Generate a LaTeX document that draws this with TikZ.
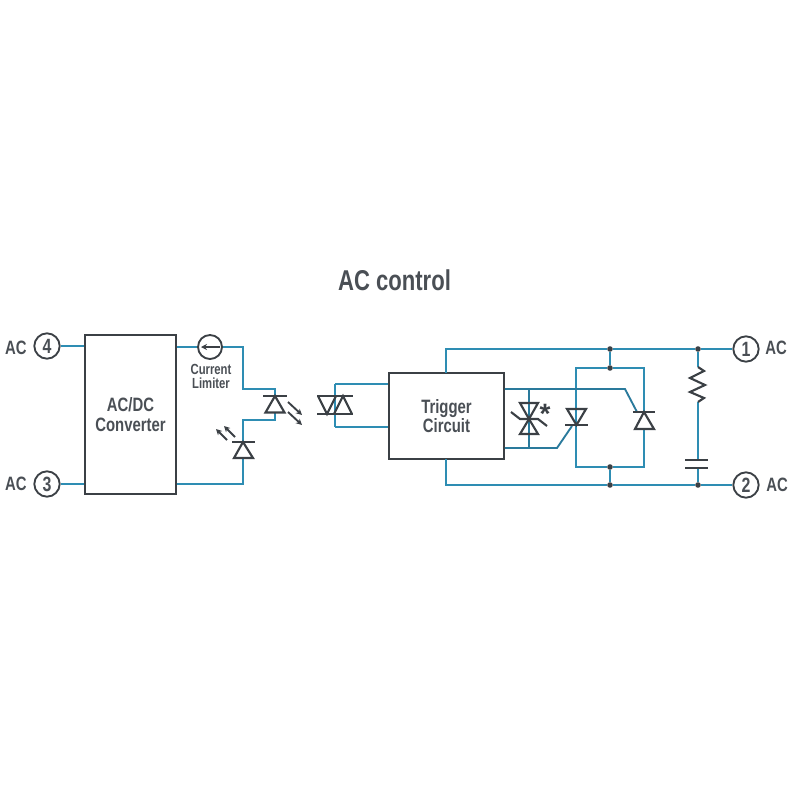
\documentclass[tikz,border=0pt]{standalone}
\usepackage{fontspec}
\setmainfont{Liberation Sans}
\newfontfamily\narrowfont[FakeStretch=0.77]{Liberation Sans Bold}
\usetikzlibrary{arrows.meta}
\definecolor{wireblue}{HTML}{2E8DB3}
\definecolor{wiredark}{HTML}{2A7A9C}
\definecolor{inkgrey}{HTML}{3B4045}
\definecolor{textgrey}{HTML}{4A4F55}
\tikzset{
  x=0.75pt,y=-0.75pt,
  wire/.style={draw=wireblue,line width=1.9pt,line join=miter},
  thinwire/.style={draw=wiredark,line width=1.4pt,line join=miter},
  sym/.style={draw=inkgrey,line width=1.6pt,line join=miter},
  boxnode/.style={draw=inkgrey,line width=1.7pt,fill=white,inner sep=0pt,align=center,text=textgrey,font=\narrowfont\fontsize{14.5}{14.6}\selectfont},
  term/.style={circle,draw=inkgrey,line width=1.4pt,fill=white,minimum size=19pt,inner sep=0pt,text=textgrey,font=\narrowfont\fontsize{15.5}{15}\selectfont},
  aclabel/.style={text=textgrey,inner sep=0pt,font=\narrowfont\fontsize{14.5}{14}\selectfont},
  smalllabel/.style={text=textgrey,inner sep=0pt,align=center,font=\narrowfont\fontsize{11}{10.5}\selectfont},
  joint/.style={circle,fill=inkgrey,draw=none,minimum size=4.2pt,inner sep=0pt},
  lightarrow/.style={draw=inkgrey,line width=1.4pt,-{Stealth[length=4.5pt,width=4.5pt]}},
}
\begin{document}
\begin{tikzpicture}
\useasboundingbox (0,0) rectangle (800,800);
\node[text=textgrey,inner sep=0pt,font=\narrowfont\fontsize{21.5}{24}\selectfont] (title) at (394.5,280) {AC control};

% main blocks and terminals
\node[boxnode,minimum width=68.5pt,minimum height=119pt] (conv) at (130.5,414.5) {AC/DC\\Converter};
\node[boxnode,minimum width=86pt,minimum height=64.5pt] (trig) at (446.5,416) {Trigger\\Circuit};
\node[term] (t4) at (47,346) {4};
\node[term] (t3) at (47,484) {3};
\node[term] (t1) at (746,349) {1};
\node[term] (t2) at (746,485) {2};
\node[aclabel] (ac4) at (16,348) {AC};
\node[aclabel] (ac3) at (16,484) {AC};
\node[aclabel] (ac1) at (776,348) {AC};
\node[aclabel] (ac2) at (777,485) {AC};
\node[circle,draw=inkgrey,line width=1.4pt,fill=white,minimum size=18pt,inner sep=0pt] (lim) at (210,347) {};
\node[smalllabel] (limtext) at (211,376.5) {Current\\Limiter};

% named junctions
\foreach \n/\x/\y in {led1top/275/396, led1bot/275/412, led2top/243/442, led2bot/243/458,
  optoa/335/384, optob/335/427, gatea/625/389, gatea2/637/412, gateb/557/448, gateb2/572/426,
  varup/529/389, vardn/529/448, rtop/698/367, rbot/698/402, ctop/698/460, cbot/698/468,
  trigtop/446/373, trigbot/446/459}
  {\coordinate (\n) at (\x,\y);}
\node[joint] (j1) at (610,349) {};
\node[joint] (j2) at (610,368) {};
\node[joint] (j3) at (610,467) {};
\node[joint] (j4) at (610,485) {};
\node[joint] (j5) at (698,349) {};
\node[joint] (j6) at (698,485) {};

% blue wiring
\draw[wire] (t4) -- (conv.west |- t4);
\draw[wire] (t3) -- (conv.west |- t3);
\draw[wire] (conv.east |- lim) -- (lim);
\draw[wire] (lim) -| (243,389) -| (led1top);
\draw[wire] (led1bot) |- (243,420) -- (led2top);
\draw[wire] (led2bot) |- (conv.east |- t3);
\draw[wire] (optoa) -- (optob);
\draw[wire] (optoa) -- (trig.west |- optoa);
\draw[wire] (optob) -- (trig.west |- optob);
\draw[wire] (trigtop) |- (j1) -- (j5) -- (t1);
\draw[wire] (trigbot) |- (j4) -- (j6) -- (t2);
\draw[wire] (j1) -- (j2);
\draw[wire] (j4) -- (j3);
\draw[wire] (576,425) -- (576,368) -- (j2) -- (644,368) -- (644,412);
\draw[wire] (576,425) -- (576,467) -- (j3) -- (644,467) -- (644,429);
\draw[thinwire] (trig.east |- gatea) -- (gatea) -- (gatea2);
\draw[thinwire] (trig.east |- gateb) -- (gateb) -- (gateb2);
\draw[thinwire] (varup) -- (vardn);
\draw[wire] (j5) -- (rtop);
\draw[wire] (rbot) -- (ctop);
\draw[wire] (cbot) -- (j6);

% current limiter arrow
\draw[lightarrow] (220,347) -- (201,347);

% LED 1
\draw[sym] (263,396) -- (287,396);
\draw[sym] (275,396) -- (265.5,412.5) -- (284.5,412.5) -- cycle;
\draw[lightarrow] (288,402) -- (302,415);
\draw[lightarrow] (288,412) -- (302,425);
% LED 2
\draw[sym] (232,442) -- (255,442);
\draw[sym] (243,442) -- (234,458) -- (253,458) -- cycle;
\draw[lightarrow] (227,440) -- (216,429);
\draw[lightarrow] (235,437) -- (224,426);
% opto-triac
\draw[sym] (317,396) -- (353,396);
\draw[sym] (317,414) -- (353,414);
\draw[sym] (318,396) -- (327,414) -- (336,396);
\draw[sym] (334,414) -- (343,396) -- (352,414);
% varistor
\draw[sym] (520,403) -- (538,403) -- (529,419) -- cycle;
\draw[sym] (520,434) -- (538,434) -- (529,419) -- cycle;
\draw[sym] (511,412) -- (520,419) -- (538,419) -- (547,426);
\node[text=inkgrey,inner sep=0pt,font=\fontspec{Liberation Sans Bold}\fontsize{21}{21}\selectfont] (star) at (545,414) {*};
% thyristors
\draw[sym] (567,409) -- (586,409) -- (576.5,425) -- cycle;
\draw[sym] (565,425) -- (588,425);
\draw[sym] (633,412) -- (655,412);
\draw[sym] (644,412) -- (635,429) -- (654,429) -- cycle;
% resistor
\draw[sym] (rtop) -- (704,371) -- (690,378) -- (705,385) -- (690,392) -- (704,398) -- (rbot);
% capacitor
\draw[sym] (685,460) -- (708,460);
\draw[sym] (685,468) -- (708,468);
\end{tikzpicture}
\end{document}
